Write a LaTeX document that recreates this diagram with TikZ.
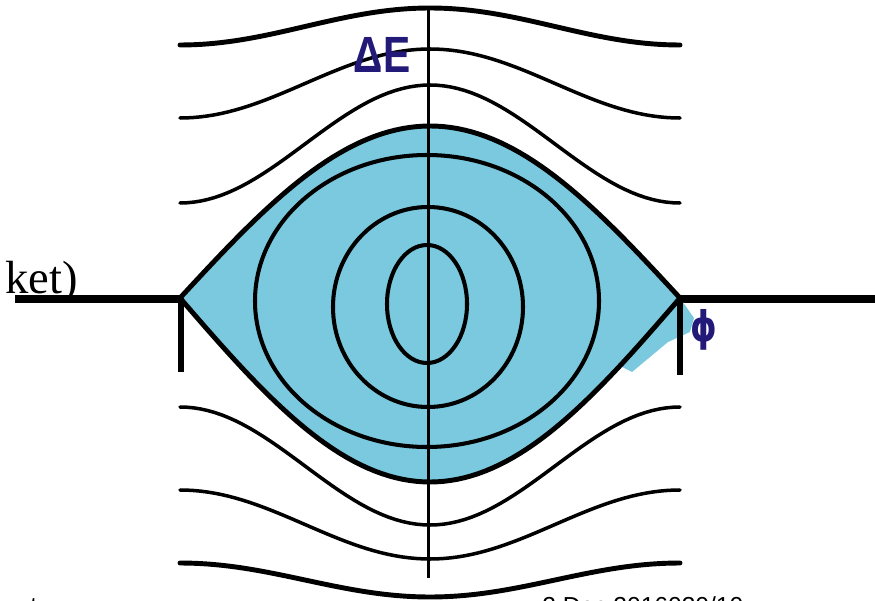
\documentclass[tikz,border=0pt]{standalone}
\usepackage{graphicx}
\usepackage{fontspec}
\setmainfont{Liberation Serif}
\setsansfont{Liberation Sans}
\newfontfamily\phifont{DejaVu Sans}
\usepackage{tikz}
\usetikzlibrary{positioning}
\usepackage{xcolor}
\definecolor{bucketblue}{RGB}{122,201,222}
\definecolor{labelnavy}{RGB}{35,25,120}

% one open trajectory: end height, peak height (pixel units)
\newcommand{\openpath}[3][]{%
  \draw[trajline,#1] plot[domain=-180:180, samples=73, variable=\t]
    ({430+\t/180*250}, {#2+(#3-#2)*(1+cos(\t))/2});}

\begin{document}
\begin{tikzpicture}[x=0.02cm, y=-0.02cm,
    trajline/.style={line width=2pt, line join=round, line cap=round},
    orbitline/.style={line width=2.3pt},
    sepline/.style={line width=2.8pt, line join=round}]

    \useasboundingbox (0,0) rectangle (875,601);

    % Axes end points
    \coordinate (phiL)  at (15,299);
    \coordinate (phiR)  at (875,299);
    \coordinate (dEtop) at (428,8);
    \coordinate (dEbot) at (428,578);
    \coordinate (cuspL) at (181,298);
    \coordinate (cuspR) at (680,298);
    \coordinate (tickL) at (181,372);
    \coordinate (tickR) at (680,375);

    \draw[line width=4pt] (phiL) -- (phiR);

    % The bucket (separatrix)
    \fill[bucketblue] (680,298) -- (694,318) -- (690,332) -- (668,342) -- (632,372)
        -- (620,366) -- (650,332) -- (664,317) -- cycle;
    \fill[bucketblue]
        plot[domain=-180:180, samples=73, variable=\t] ({430+\t/180*250}, {298-172*cos(\t/2)})
        -- plot[domain=180:-180, samples=73, variable=\t] ({430+\t/180*250}, {298+184*cos(\t/2)})
        -- cycle;
    \draw[sepline]
        plot[domain=-180:180, samples=73, variable=\t] ({430+\t/180*250}, {298-172*cos(\t/2)})
        -- plot[domain=180:-180, samples=73, variable=\t] ({430+\t/180*250}, {298+184*cos(\t/2)})
        -- cycle;
    \draw[line width=3.4pt] (cuspL) -- (tickL);
    \draw[line width=3.4pt] (cuspR) -- (tickR);

    % Closed orbits inside
    \begin{scope}[orbitline]
        \draw (427,304) ellipse [x radius=40, y radius=59];
        \draw (428,307) ellipse [x radius=95, y radius=100];
        \draw (427,301) ellipse [x radius=172, y radius=146];
    \end{scope}

    % Open trajectories above and below
    \openpath[line width=2.8pt]{45}{8}
    \openpath{118}{49}
    \openpath{203}{85}
    \openpath{407}{525}
    \openpath{490}{559}
    \openpath[line width=2.8pt]{563}{597}

    \draw[line width=1.7pt] (dEtop) -- (dEbot);

    % Labels
    \node[text=labelnavy, inner sep=0, font=\sffamily\bfseries\fontsize{29}{29}\selectfont]
        (dElabel) at (382,55) {\scalebox{0.8}[1]{ΔE}};
    \node[text=labelnavy, inner sep=0, font=\phifont\bfseries\fontsize{24}{24}\selectfont]
        (philabel) at (704,330) {\scalebox{0.8}[1]{ϕ}};
    \node[anchor=base east, inner sep=0, font=\fontsize{26.5}{26.5}\selectfont]
        (ketlabel) at (78,293) {ket)};
    \node[anchor=base west, inner sep=0, font=\sffamily\fontsize{14}{14}\selectfont]
        (footL) at (30,614) {t};
    \node[anchor=base west, inner sep=0, font=\sffamily\fontsize{14}{14}\selectfont]
        (footR) at (542,614) {2 Dec 2016030/10};
\end{tikzpicture}
\end{document}
